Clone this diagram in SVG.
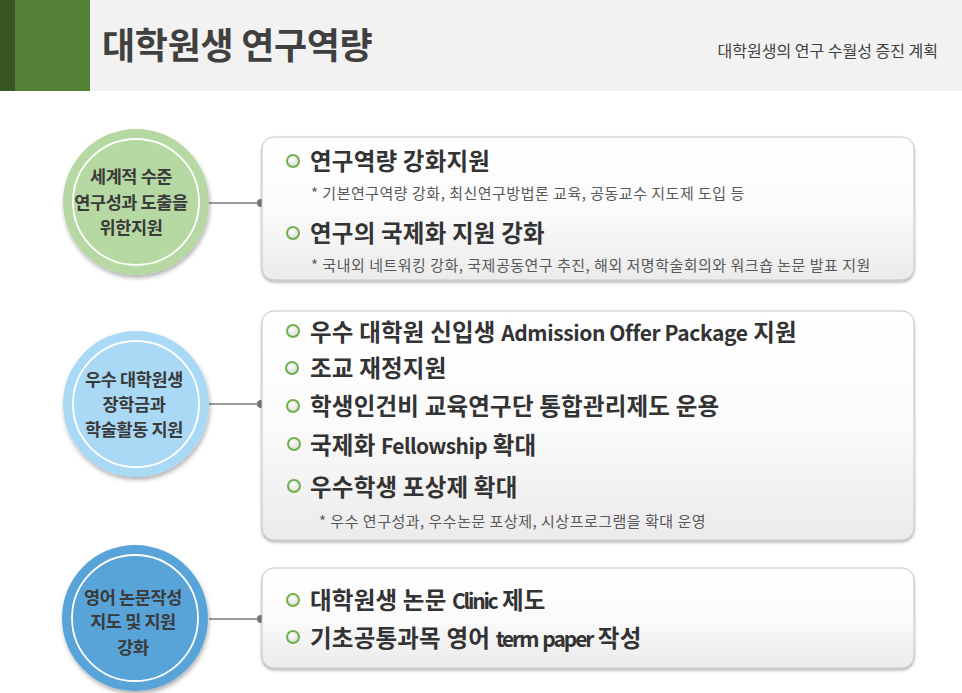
<svg xmlns="http://www.w3.org/2000/svg" width="962" height="693" viewBox="0 0 962 693">
<defs>
<style>
text{font-family:"Noto Sans CJK KR","Noto Sans",sans-serif;fill:#333}
.title{font-size:36px;font-weight:bold;fill:#404040;letter-spacing:-0.3px}
.sub{font-size:16px;fill:#404040;letter-spacing:0px}
.ct{font-size:17.5px;font-weight:bold;fill:#3a3a3a;letter-spacing:-0.4px;text-anchor:middle}
.item{font-size:23.5px;font-weight:bold;fill:#333;letter-spacing:0.2px}
.lat{font-size:21px}
.note{font-size:15px;fill:#595959;letter-spacing:0.5px}
.ghost{font-size:9px;fill:#ffffff}
.box{fill:url(#boxg);stroke:#c4c4c4;stroke-width:1;filter:url(#sh)}
.ring{fill:none;stroke:#ffffff;stroke-width:1.8}
.bul{fill:url(#bulg);stroke:#6fb04a;stroke-width:2}
.conn{stroke:#7a7a7a;stroke-width:1.3}
.dot{fill:#777}
</style>
<linearGradient id="boxg" x1="0" y1="0" x2="0" y2="1">
<stop offset="0" stop-color="#ffffff"/>
<stop offset="0.5" stop-color="#fbfbfb"/>
<stop offset="1" stop-color="#ebebeb"/>
</linearGradient>
<radialGradient id="bulg" cx="0.4" cy="0.35" r="0.7">
<stop offset="0" stop-color="#ffffff"/>
<stop offset="1" stop-color="#d8d8d8"/>
</radialGradient>
<filter id="sh" x="-5%" y="-10%" width="110%" height="125%">
<feDropShadow dx="0" dy="2" stdDeviation="1.5" flood-color="#000" flood-opacity="0.3"/>
</filter>
<filter id="csh" x="-10%" y="-10%" width="120%" height="125%">
<feDropShadow dx="1" dy="3" stdDeviation="2" flood-color="#000" flood-opacity="0.3"/>
</filter>
</defs>

<g id="header">
<rect x="0" y="0" width="962" height="91" fill="#f2f2f2"/>
<rect x="0" y="0" width="90" height="91" fill="#538135"/>
<rect x="0" y="0" width="15" height="91" fill="#375623"/>
<text class="title" x="102" y="59">대학원생 연구역량</text>
<text class="sub" x="938" y="57" text-anchor="end">대학원생의 연구 수월성 증진 계획</text>
</g>

<g id="connectors">
<line class="conn" x1="209" y1="203" x2="261" y2="203"/>
<circle class="dot" cx="261" cy="203" r="4"/>
<line class="conn" x1="209" y1="404" x2="261" y2="404"/>
<circle class="dot" cx="261" cy="404" r="4"/>
<line class="conn" x1="209" y1="619" x2="261" y2="619"/>
<circle class="dot" cx="261" cy="619" r="4"/>
</g>

<g id="circle1">
<circle cx="136" cy="202" r="73" fill="#b6d8a2" filter="url(#csh)"/>
<circle class="ring" cx="136" cy="202" r="63"/>
<text class="ct" x="131" y="183">세계적 수준</text>
<text class="ct" x="131" y="209">연구성과 도출을</text>
<text class="ct" x="131" y="234">위한지원</text>
</g>

<g id="circle2">
<circle cx="136" cy="404" r="73" fill="#a9d9f4" filter="url(#csh)"/>
<circle class="ring" cx="136" cy="404" r="63"/>
<text class="ct" x="134" y="386">우수 대학원생</text>
<text class="ct" x="134" y="411">장학금과</text>
<text class="ct" x="134" y="436">학술활동 지원</text>
</g>

<g id="circle3">
<circle cx="135" cy="618" r="73" fill="#59a3d8" filter="url(#csh)"/>
<circle class="ring" cx="135" cy="618" r="63"/>
<text class="ct" x="133" y="604">영어 논문작성</text>
<text class="ct" x="133" y="628">지도 및 지원</text>
<text class="ct" x="133" y="654">강화</text>
</g>

<g id="box1">
<rect class="box" x="262" y="137" width="652" height="143" rx="12"/>
<circle class="bul" cx="293" cy="161" r="6"/>
<text class="item" x="310" y="170">연구역량 강화지원</text>
<text class="note" x="311" y="199">* 기본연구역량  강화, 최신연구방법론  교육, 공동교수 지도제 도입 등</text>
<circle class="bul" cx="293" cy="233" r="6"/>
<text class="item" x="310" y="242">연구의 국제화 지원 강화</text>
<text class="note" x="311" y="271">* 국내외 네트워킹 강화, 국제공동연구  추진, 해외 저명학술회의와  워크숍 논문 발표 지원</text>
<text class="ghost" x="581" y="214">ㅈ</text>
</g>

<g id="box2">
<rect class="box" x="262" y="311" width="652" height="229" rx="12"/>
<circle class="bul" cx="293" cy="331" r="6"/>
<text class="item" x="310" y="341">우수 대학원 신입생 <tspan class="lat" letter-spacing="-0.4">Admission Offer Package</tspan> 지원</text>
<circle class="bul" cx="292" cy="368" r="6"/>
<text class="item" x="310" y="377">조교 재정지원</text>
<circle class="bul" cx="293" cy="406" r="6"/>
<text class="item" x="310" y="415">학생인건비 교육연구단 통합관리제도 운용</text>
<circle class="bul" cx="294" cy="444" r="6"/>
<text class="item" x="310" y="454">국제화 <tspan class="lat" letter-spacing="-0.6">Fellowship</tspan> 확대</text>
<circle class="bul" cx="294" cy="486" r="6"/>
<text class="item" x="310" y="496">우수학생 포상제 확대</text>
<text class="note" x="319" y="527">* 우수 연구성과, 우수논문  포상제, 시상프로그램을  확대 운영</text>
<text class="ghost" x="584" y="431">ㅈ</text>
</g>

<g id="box3">
<rect class="box" x="262" y="568" width="652" height="100" rx="12"/>
<circle class="bul" cx="293" cy="600" r="6"/>
<text class="item" x="310" y="609">대학원생 논문 <tspan class="lat" letter-spacing="-2.2">Clinic</tspan> 제도</text>
<circle class="bul" cx="293" cy="637" r="6"/>
<text class="item" x="310" y="647">기초공통과목 영어 <tspan class="lat" letter-spacing="-2.1">term</tspan><tspan class="lat"> </tspan><tspan class="lat" letter-spacing="-2.1">paper</tspan> 작성</text>
<text class="ghost" x="583" y="623">ㅈ</text>
</g>
</svg>
